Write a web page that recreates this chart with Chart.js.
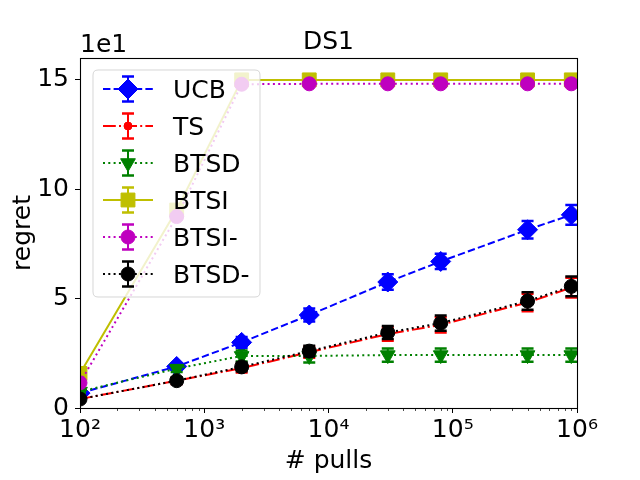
<!DOCTYPE html>
<html><head><meta charset="utf-8">
<script src="https://cdn.jsdelivr.net/npm/chart.js@4/dist/chart.umd.min.js"></script>
<style>html,body{margin:0;padding:0;background:#fff}canvas{display:block}</style>
</head><body>
<canvas id="c" width="640" height="480"></canvas>
<script>
// ---- data (regret values, true units; axis shows them x 1e1) ----
const pulls = [100, 600, 2000, 7000, 30000, 80000, 400000, 900000];
const seriesLabels = ['UCB', 'TS', 'BTSD', 'BTSI', 'BTSI-', 'BTSD-'];
const ucb          = [6.8, 19.0, 30.0, 42.5, 57.6, 67.0, 81.5, 88.3];
const ucbErr       = [1.0, 1.5, 2.5, 3.0, 3.5, 3.5, 4.0, 4.5];
const ts           = [4.1, 12.5, 18.2, 25.5, 33.8, 38.0, 48.2, 55.0];
const tsErr        = [0.5, 1.5, 2.0, 2.5, 3.0, 3.5, 4.0, 4.5];
const btsd         = [7.5, 18.0, 23.8, 23.8, 24.2, 24.2, 24.2, 24.2];
const btsdErr      = [0.5, 1.5, 2.5, 3.0, 3.0, 3.0, 3.0, 3.0];
const btsi         = [15.8, 90.5, 150, 150, 150, 150, 150, 150];
const btsiErr      = [1.0, 1.0, 0.5, 0.5, 0.5, 0.5, 0.5, 0.5];
const btsiMinus    = [11.5, 87.5, 148, 148.2, 148.2, 148.2, 148.2, 148.2];
const btsiMinusErr = [1.0, 1.0, 0.5, 0.5, 0.5, 0.5, 0.5, 0.5];
const btsdMinus    = [4.1, 12.5, 18.8, 26.0, 34.5, 38.8, 48.9, 55.6];
const btsdMinusErr = [0.5, 1.5, 2.0, 2.5, 3.0, 3.5, 4.0, 4.5];
const xMajorTicks  = [1e2, 1e3, 1e4, 1e5, 1e6];
const xTickLabels  = ['10²', '10³', '10⁴', '10⁵', '10⁶'];
const yTickValues  = [0, 50, 100, 150];
const yTickLabels  = ['0', '5', '10', '15'];

const FONT = '"DejaVu Sans", "Liberation Sans", sans-serif';
Chart.defaults.font.family = FONT;
Chart.defaults.font.size = 25;
Chart.defaults.color = '#000';

function pts(vals) { return pulls.map((x, i) => ({ x: x, y: vals[i] })); }

const styles = [
  { color: '#0000ff', dash: [7.4, 3.2], marker: 'diamond' },
  { color: '#ff0000', dash: [12.8, 3.2, 2, 3.2], marker: 'dot' },
  { color: '#008000', dash: [2, 3.3], marker: 'tridown' },
  { color: '#bfbf00', dash: [], marker: 'square' },
  { color: '#bf00bf', dash: [2, 3.3], marker: 'circle' },
  { color: '#000000', dash: [2, 3.3], marker: 'circle' }
];
const values = [ucb, ts, btsd, btsi, btsiMinus, btsdMinus];
const errors = [ucbErr, tsErr, btsdErr, btsiErr, btsiMinusErr, btsdMinusErr];

function pointOpts(kind) {
  switch (kind) {
    case 'diamond': return { pointStyle: 'rectRot', pointRadius: 10, rotation: 0 };
    case 'dot': return { pointStyle: 'circle', pointRadius: 4, rotation: 0 };
    case 'tridown': return { pointStyle: 'triangle', pointRadius: 8.5, rotation: 180 };
    case 'square': return { pointStyle: 'rect', pointRadius: 9.8, rotation: 0 };
    default: return { pointStyle: 'circle', pointRadius: 7, rotation: 0 };
  }
}

const datasets = seriesLabels.map((lab, i) => {
  const st = styles[i], po = pointOpts(st.marker);
  return {
    label: lab,
    data: pts(values[i]),
    errors: errors[i],
    markerKind: st.marker,
    borderColor: st.color,
    backgroundColor: st.color,
    borderWidth: 2,
    borderDash: st.dash,
    tension: 0,
    pointStyle: po.pointStyle,
    pointRadius: po.pointRadius,
    pointRotation: po.rotation,
    pointHoverRadius: po.pointRadius,
    pointBackgroundColor: st.color,
    pointBorderColor: st.color,
    pointBorderWidth: 1,
    clip: 0,
    order: seriesLabels.length - i
  };
});

function drawMarker(ctx, kind, x, y, color) {
  ctx.save();
  ctx.setLineDash([]);
  ctx.fillStyle = color; ctx.strokeStyle = color; ctx.lineWidth = 1;
  ctx.beginPath();
  if (kind === 'diamond') {
    ctx.moveTo(x - 10, y); ctx.lineTo(x, y - 10); ctx.lineTo(x + 10, y); ctx.lineTo(x, y + 10); ctx.closePath();
  } else if (kind === 'dot') {
    ctx.arc(x, y, 4, 0, Math.PI * 2);
  } else if (kind === 'tridown') {
    const r = 8.5;
    ctx.moveTo(x, y + r); ctx.lineTo(x - r * Math.sin(Math.PI / 3), y - r / 2); ctx.lineTo(x + r * Math.sin(Math.PI / 3), y - r / 2); ctx.closePath();
  } else if (kind === 'square') {
    ctx.rect(x - 6.93, y - 6.93, 13.86, 13.86);
  } else {
    ctx.arc(x, y, 7, 0, Math.PI * 2);
  }
  ctx.fill(); ctx.stroke();
  ctx.restore();
}

function drawErrBar(ctx, x, yTop, yBot, color) {
  ctx.save();
  ctx.setLineDash([]);
  ctx.strokeStyle = color;
  ctx.lineWidth = 2;
  ctx.beginPath(); ctx.moveTo(x, yTop); ctx.lineTo(x, yBot); ctx.stroke();
  ctx.lineWidth = 2.5;
  ctx.beginPath();
  ctx.moveTo(x - 6, yTop); ctx.lineTo(x + 6, yTop);
  ctx.moveTo(x - 6, yBot); ctx.lineTo(x + 6, yBot);
  ctx.stroke();
  ctx.restore();
}

const extras = {
  id: 'extras',
  beforeDatasetDraw(chart, args) {
    const ds = chart.data.datasets[args.index];
    const xs = chart.scales.x, ys = chart.scales.y, a = chart.chartArea, ctx = chart.ctx;
    ctx.save();
    ctx.beginPath(); ctx.rect(a.left, a.top, a.right - a.left, a.bottom - a.top); ctx.clip();
    ds.data.forEach((p, i) => {
      const e = ds.errors[i];
      drawErrBar(ctx, xs.getPixelForValue(p.x), ys.getPixelForValue(p.y + e), ys.getPixelForValue(p.y - e), ds.borderColor);
    });
    ctx.restore();
  },
  afterDatasetsDraw(chart) {
    const ctx = chart.ctx, a = chart.chartArea, xs = chart.scales.x;
    ctx.save();
    // minor ticks on log axis
    ctx.strokeStyle = '#000'; ctx.lineWidth = 0.7;
    for (let k = 0; k < xMajorTicks.length - 1; k++) {
      for (let m = 2; m <= 9; m++) {
        const x = Math.round(xs.getPixelForValue(m * xMajorTicks[k])) + 0.5;
        ctx.beginPath(); ctx.moveTo(x, a.bottom); ctx.lineTo(x, a.bottom + 3); ctx.stroke();
      }
    }
    // frame
    ctx.lineWidth = 1.1;
    ctx.strokeRect(Math.round(a.left) + 0.5, Math.round(a.top) + 0.5, Math.round(a.right - a.left), Math.round(a.bottom - a.top));
    // legend
    const lx = 93, ly = 70, lw = 167, lh = 227, rr = 5;
    ctx.beginPath();
    ctx.moveTo(lx + rr, ly); ctx.lineTo(lx + lw - rr, ly); ctx.quadraticCurveTo(lx + lw, ly, lx + lw, ly + rr);
    ctx.lineTo(lx + lw, ly + lh - rr); ctx.quadraticCurveTo(lx + lw, ly + lh, lx + lw - rr, ly + lh);
    ctx.lineTo(lx + rr, ly + lh); ctx.quadraticCurveTo(lx, ly + lh, lx, ly + lh - rr);
    ctx.lineTo(lx, ly + rr); ctx.quadraticCurveTo(lx, ly, lx + rr, ly); ctx.closePath();
    ctx.fillStyle = 'rgba(255,255,255,0.8)'; ctx.fill();
    ctx.strokeStyle = 'rgba(204,204,204,0.8)'; ctx.lineWidth = 1; ctx.stroke();
    chart.data.datasets.forEach((ds, i) => {
      const y = 89 + 37 * i;
      ctx.save();
      ctx.strokeStyle = ds.borderColor; ctx.lineWidth = 2; ctx.setLineDash(ds.borderDash);
      ctx.beginPath(); ctx.moveTo(103, y); ctx.lineTo(153, y); ctx.stroke();
      ctx.restore();
      drawErrBar(ctx, 128, y - 12.5, y + 12.5, ds.borderColor);
      drawMarker(ctx, ds.markerKind, 128, y, ds.borderColor);
      ctx.fillStyle = '#000'; ctx.font = '25px ' + FONT; ctx.textAlign = 'left'; ctx.textBaseline = 'alphabetic';
      ctx.fillText(ds.label, 173, y + 9);
    });
    // title and offset text
    ctx.fillStyle = '#000'; ctx.font = '25px ' + FONT;
    ctx.textAlign = 'center'; ctx.textBaseline = 'alphabetic';
    ctx.fillText('DS1', (a.left + a.right) / 2, 49);
    ctx.textAlign = 'left';
    ctx.fillText('1e1', a.left, 52);
    ctx.restore();
  }
};

new Chart(document.getElementById('c'), {
  type: 'line',
  data: { datasets: datasets },
  options: {
    responsive: false,
    animation: false,
    devicePixelRatio: 1,
    layout: { padding: { top: 58, right: 63, left: 0, bottom: 0 } },
    plugins: { legend: { display: false }, tooltip: { enabled: false }, title: { display: false } },
    scales: {
      x: {
        type: 'logarithmic', position: 'bottom', min: 100, max: 1e6,
        afterFit(s) { s.height = 72; },
        afterBuildTicks(s) { s.ticks = xMajorTicks.map(v => ({ value: v, major: true })); },
        ticks: { autoSkip: false, maxRotation: 0, minRotation: 0, padding: 2, color: '#000',
                 font: { size: 25 }, callback: (v, i) => xTickLabels[i] },
        grid: { display: true, drawOnChartArea: false, drawTicks: true, tickLength: 5, tickWidth: 1, tickColor: '#000' },
        border: { display: false },
        title: { display: true, text: '# pulls', color: '#000', font: { size: 25 }, padding: { top: 0, bottom: 4 } }
      },
      y: {
        type: 'linear', position: 'left', min: 0, max: 160,
        afterFit(s) { s.width = 80; },
        afterBuildTicks(s) { s.ticks = yTickValues.map(v => ({ value: v })); },
        ticks: { autoSkip: false, padding: 6, color: '#000', font: { size: 25 }, callback: (v, i) => yTickLabels[i] },
        grid: { display: true, drawOnChartArea: false, drawTicks: true, tickLength: 5, tickWidth: 1, tickColor: '#000' },
        border: { display: false },
        title: { display: true, text: 'regret', color: '#000', font: { size: 25 }, padding: { top: 8, bottom: 0 } }
      }
    }
  },
  plugins: [extras]
});
</script>
</body></html>
